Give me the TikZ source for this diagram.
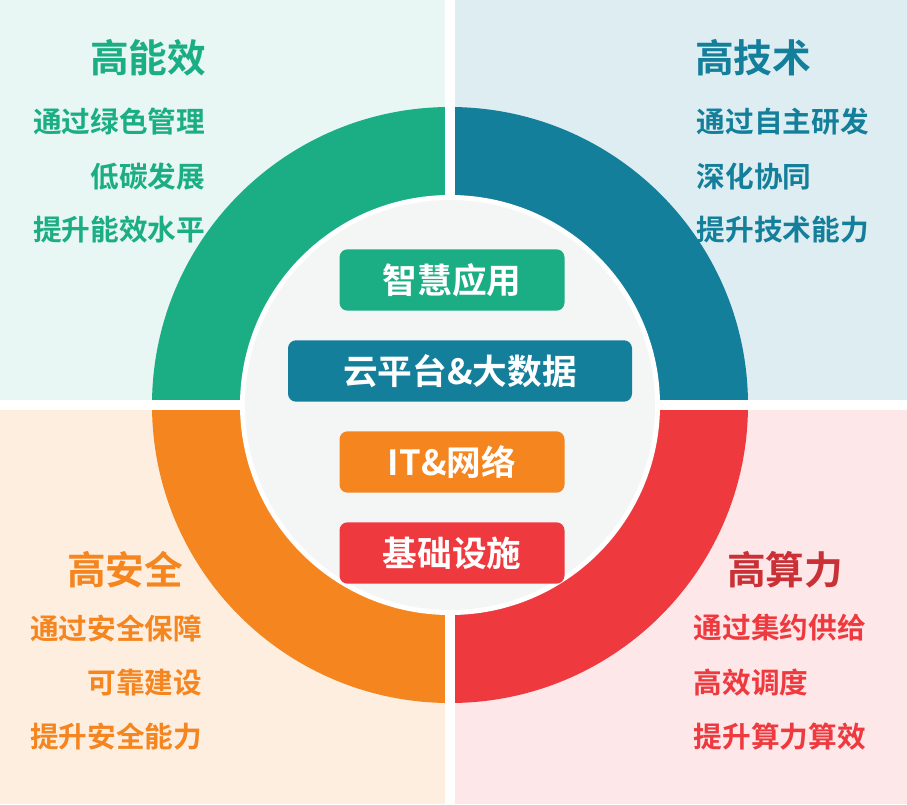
\documentclass[tikz,border=0pt]{standalone}
\usepackage{fontspec}
\newfontfamily\cjk{Noto Sans CJK SC Bold}
\begin{document}
\begin{tikzpicture}[x=0.75pt,y=-0.75pt,
  title/.style={font=\cjk\fontsize{29}{32}\selectfont},
  body/.style={font=\cjk\fontsize{21.5}{24}\selectfont},
  lbl/.style={rounded corners=6pt,minimum width=168.75pt,minimum height=46pt,text=white,font=\cjk\fontsize{26}{28}\selectfont,inner sep=0pt}]
\definecolor{cg}{HTML}{1BAE84}\definecolor{ct}{HTML}{137F9B}
\definecolor{co}{HTML}{F5851F}\definecolor{cr}{HTML}{EE3A3F}
\useasboundingbox (0,0) rectangle (907,804);
\fill[cg!10] (0,0) rectangle (450,405);
\fill[ct!14] (450,0) rectangle (907,405);
\fill[co!14] (0,405) rectangle (450,804);
\fill[cr!12] (450,405) rectangle (907,804);
\coordinate (c) at (450,405);
\begin{scope}\clip (0,0) rectangle (450,405); \fill[cg] (c) circle[radius=298];\end{scope}
\begin{scope}\clip (450,0) rectangle (907,405); \fill[ct] (c) circle[radius=298];\end{scope}
\begin{scope}\clip (0,405) rectangle (450,804); \fill[co] (c) circle[radius=298];\end{scope}
\begin{scope}\clip (450,405) rectangle (907,804); \fill[cr] (c) circle[radius=298];\end{scope}
\draw[white,line width=7.5pt] (450,0) -- (450,804) (0,405) -- (907,405);
\fill[white] (c) circle[radius=210];
\fill[ct!6!gray!8] (c) circle[radius=205];
\node[lbl,fill=cg] (a) at (452,280) {智慧应用};
\node[lbl,fill=ct,minimum width=258pt] (b) at (460,371) {云平台\&大数据};
\node[lbl,fill=co] (d) at (452,462) {IT\&网络};
\node[lbl,fill=cr] (e) at (452,553) {基础设施};
\node[title,text=cg] (t1) at (148,58) {高能效};
\node[body,text=cg,anchor=east] (t1a) at (210,122) {通过绿色管理};
\node[body,text=cg,anchor=east] (t1b) at (210,177) {低碳发展};
\node[body,text=cg,anchor=east] (t1c) at (210,230) {提升能效水平};
\node[title,text=ct] (t2) at (753,58) {高技术};
\node[body,text=ct,anchor=west] (t2a) at (692,122) {通过自主研发};
\node[body,text=ct,anchor=west] (t2b) at (692,177) {深化协同};
\node[body,text=ct,anchor=west] (t2c) at (692,230) {提升技术能力};
\node[title,text=co] (t3) at (125,570) {高安全};
\node[body,text=co,anchor=east] (t3a) at (207,628) {通过安全保障};
\node[body,text=co,anchor=east] (t3b) at (207,683) {可靠建设};
\node[body,text=co,anchor=east] (t3c) at (207,737) {提升安全能力};
\node[title,text=cr!85!black] (t4) at (785,570) {高算力};
\node[body,text=cr,anchor=west] (t4a) at (689,628) {通过集约供给};
\node[body,text=cr,anchor=west] (t4b) at (689,683) {高效调度};
\node[body,text=cr,anchor=west] (t4c) at (689,737) {提升算力算效};
\end{tikzpicture}
\end{document}
